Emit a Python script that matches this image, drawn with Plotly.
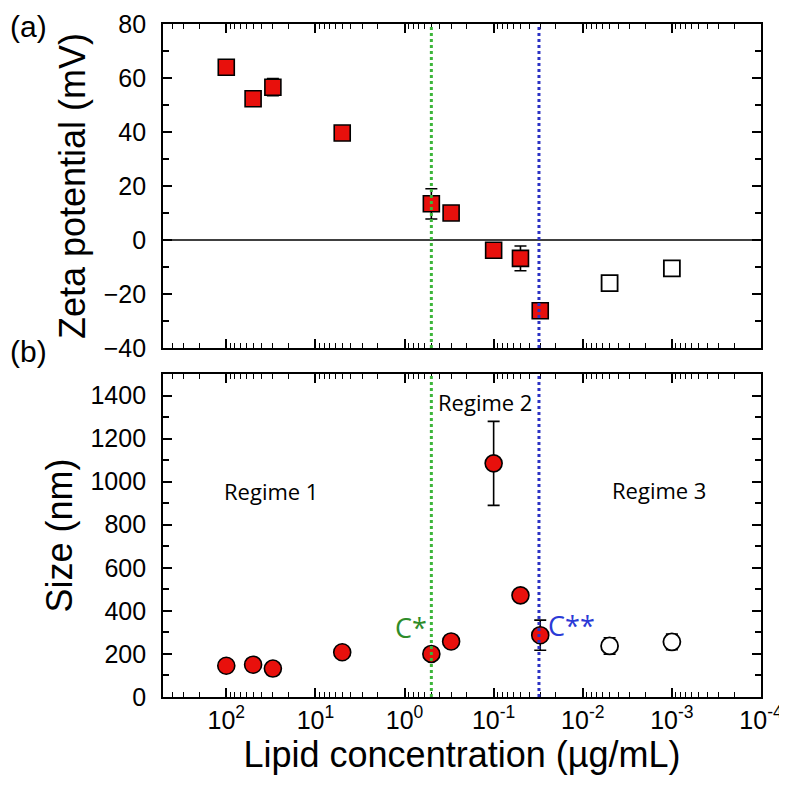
import plotly.graph_objects as go

# ---------------- data ----------------
conc_zeta = [100, 50, 30, 5, 0.5, 0.3, 0.1, 0.05, 0.03]
zeta = [64, 52.3, 56.6, 39.6, 13.4, 10, -3.8, -6.8, -26.2]
zeta_err = [0, 0, 3.2, 0, 5.6, 2, 0, 4.6, 0]
conc_zeta_open = [0.005, 0.001]
zeta_open = [-16, -10.5]
zeta_open_err = [0, 1]

conc_size = [100, 50, 30, 5, 0.5, 0.3, 0.1, 0.05, 0.03]
size = [145, 150, 132, 208, 200, 258, 1085, 472, 287]
size_err = [0, 0, 0, 0, 0, 0, 195, 0, 70]
conc_size_open = [0.005, 0.001]
size_open = [237, 256]
size_open_err = [38, 36]

c_star = 0.5
c_2star = 0.031

x_tickvals = [100, 10, 1, 0.1, 0.01, 0.001, 0.0001]
x_ticktext = ["10<sup>2</sup>", "10<sup>1</sup>", "10<sup>0</sup>", "10<sup>-1</sup>",
              "10<sup>-2</sup>", "10<sup>-3</sup>", "10<sup>-4</sup>"]
x_minor = [m * 10 ** e for e in range(-4, 3) for m in range(2, 10)]

FONT = "Liberation Sans"
RFONT = "Open Sans"
RED = "#e8100c"

# page body has an 8px margin, so the figure is sized/offset to compensate
W = H = 779
L, R, T, B = 155, 26, 16, 90
PW, PH = W - L - R, H - T - B

fig = go.Figure()

def err(vals, w=6):
    return dict(type="data", array=vals, visible=True, color="black", thickness=1.6, width=w)

fig.add_trace(go.Scatter(x=conc_zeta, y=zeta, mode="markers", error_y=err(zeta_err),
                         marker=dict(symbol="square", size=16, color=RED,
                                     line=dict(color="black", width=1.6)),
                         xaxis="x", yaxis="y", showlegend=False))
fig.add_trace(go.Scatter(x=conc_zeta_open, y=zeta_open, mode="markers", error_y=err(zeta_open_err),
                         marker=dict(symbol="square", size=16, color="white",
                                     line=dict(color="black", width=1.8)),
                         xaxis="x", yaxis="y", showlegend=False))
fig.add_trace(go.Scatter(x=conc_size, y=size, mode="markers", error_y=err(size_err),
                         marker=dict(symbol="circle", size=17, color=RED,
                                     line=dict(color="black", width=1.6)),
                         xaxis="x2", yaxis="y2", showlegend=False))
fig.add_trace(go.Scatter(x=conc_size_open, y=size_open, mode="markers", error_y=err(size_open_err),
                         marker=dict(symbol="circle", size=17, color="white",
                                     line=dict(color="black", width=1.8)),
                         xaxis="x2", yaxis="y2", showlegend=False))

xcommon = dict(type="log", range=[2.71, -4], showgrid=False, zeroline=False, automargin=False,
               showline=True, linecolor="black", linewidth=1.8, mirror="ticks",
               ticks="inside", ticklen=9, tickwidth=1.6, tickcolor="black",
               tickmode="array", tickvals=x_tickvals, ticktext=x_ticktext,
               minor=dict(ticks="inside", ticklen=5, tickwidth=1.3, tickcolor="black",
                          tickmode="array", tickvals=x_minor, showgrid=False),
               tickfont=dict(family=FONT, size=25, color="black"))
ycommon = dict(showgrid=False, zeroline=False, showline=True, linecolor="black", linewidth=1.8,
               automargin=False, mirror="ticks", ticks="inside", ticklen=9, tickwidth=1.6,
               tickcolor="black", ticklabelstandoff=10,
               tickfont=dict(family=FONT, size=25, color="black"))

fig.update_layout(
    width=W, height=H,
    margin=dict(l=L, r=R, t=T, b=B),
    plot_bgcolor="white", paper_bgcolor="white",
    xaxis=dict(**xcommon, anchor="y", showticklabels=False, matches="x2"),
    xaxis2=dict(**xcommon, anchor="y2",
                title=dict(text="Lipid concentration (µg/mL)", standoff=8,
                           font=dict(family=FONT, size=36, color="black"))),
    yaxis=dict(**ycommon, domain=[0.5186, 1], range=[-40, 80], dtick=20,
               minor=dict(ticks="inside", ticklen=6, dtick=10, tickwidth=1.6, tickcolor="black"),
               title=dict(text="Zeta potential (mV)", standoff=7,
                          font=dict(family=FONT, size=36, color="black"))),
    yaxis2=dict(**ycommon, domain=[0, 0.48], range=[0, 1500], dtick=200,
                minor=dict(ticks="inside", ticklen=6, dtick=100, tickwidth=1.6, tickcolor="black"),
                title=dict(text="Size (nm)", standoff=7,
                           font=dict(family=FONT, size=36, color="black"))),
)

shapes = [
    dict(type="line", xref="x domain", yref="y", x0=0, x1=1, y0=0, y1=0,
         line=dict(color="black", width=1.6)),
]
for ax in ["y", "y2"]:
    xr = "x" if ax == "y" else "x2"
    shapes.append(dict(type="line", xref=xr, yref=ax + " domain", x0=c_star, x1=c_star, y0=0, y1=1,
                       line=dict(color="#3db53a", width=3, dash="dot")))
    shapes.append(dict(type="line", xref=xr, yref=ax + " domain", x0=c_2star, x1=c_2star, y0=0, y1=1,
                       line=dict(color="#2b31c4", width=3, dash="dot")))
fig.update_layout(shapes=shapes)

annotations = []
for text, xp, yp in [("(a)", 0, 0), ("(b)", 0, 325)]:
    annotations.append(dict(text=text, xref="paper", yref="paper",
                            x=(xp - L) / PW, y=1 - (yp - T) / PH,
                            xanchor="left", yanchor="top", showarrow=False,
                            font=dict(family=FONT, size=30, color="black")))

annotations += [
    dict(text="Regime 1", xref="x2", yref="y2", x=1.50, y=955,
         showarrow=False, font=dict(family=RFONT, size=22, color="black")),
    dict(text="Regime 2", xref="x2", yref="y2", x=-0.90, y=1370,
         showarrow=False, font=dict(family=RFONT, size=22, color="black")),
    dict(text="Regime 3", xref="x2", yref="y2", x=-2.86, y=960,
         showarrow=False, font=dict(family=RFONT, size=22, color="black")),
    dict(text="C*", xref="x2", yref="y2", x=-0.07, y=325,
         showarrow=False, font=dict(family=RFONT, size=27, color="#2e8c2a")),
    dict(text="C**", xref="x2", yref="y2", x=-1.87, y=330,
         showarrow=False, font=dict(family=RFONT, size=27, color="#2b3ad6")),
]
fig.update_layout(annotations=annotations)

fig.write_html("out.html")
